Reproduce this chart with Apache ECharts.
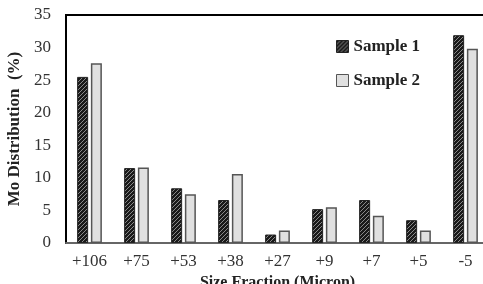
<!DOCTYPE html>
<html><head><meta charset="utf-8">
<script src="https://cdn.jsdelivr.net/npm/echarts@6/dist/echarts.min.js"></script>
<style>html,body{margin:0;padding:0;background:#fff}#c{width:483px;height:284px}</style>
</head><body><div id="c"></div>
<script>
const categories = ['+106','+75','+53','+38','+27','+9','+7','+5','-5'];
const sample1 = [25.5, 11.5, 8.4, 6.6, 1.3, 5.2, 6.6, 3.5, 31.9];
const sample2 = [27.6, 11.6, 7.5, 10.6, 1.9, 5.5, 4.2, 1.9, 29.8];
const yTicks = [0,5,10,15,20,25,30,35];

function hatch(){
  const c = document.createElement('canvas');
  c.width = 4; c.height = 4;
  const g = c.getContext('2d');
  g.fillStyle = '#1a1a1a'; g.fillRect(0,0,4,4);
  g.strokeStyle = '#8a8a8a'; g.lineWidth = 1;
  g.beginPath();
  g.moveTo(0,4); g.lineTo(4,0);
  g.moveTo(-1,1); g.lineTo(1,-1);
  g.moveTo(3,5); g.lineTo(5,3);
  g.stroke();
  return c;
}
const pat = {image: hatch(), repeat: 'repeat'};
const serif = '"Liberation Serif", "DejaVu Serif", serif';
const chart = echarts.init(document.getElementById('c'), null, {renderer:'canvas'});
chart.setOption({
  animation:false,
  grid:{left:66, right:-6, top:15, bottom:41, outerBoundsMode:'none', containLabel:false,
        show:true, borderColor:'#000', borderWidth:2, backgroundColor:'transparent'},
  legend:{
    orient:'vertical', left:331, top:33, itemWidth:12, itemHeight:12, itemGap:17, icon:'rect',
    textStyle:{fontFamily:serif, fontWeight:'bold', fontSize:17, color:'#222'},
    data:[
      {name:'Sample 1', itemStyle:{color:pat, borderColor:'#222', borderWidth:1}},
      {name:'Sample 2', itemStyle:{color:'#e0e0e0', borderColor:'#555', borderWidth:1}}
    ]
  },
  xAxis:{
    type:'category', data:categories,
    axisLine:{lineStyle:{color:'#666', width:2}},
    axisTick:{show:false},
    axisLabel:{fontFamily:serif, fontSize:17, color:'#333', margin:10},
    name:'Size Fraction (Micron)', nameLocation:'middle', nameGap:31,
    nameTextStyle:{fontFamily:serif, fontWeight:'bold', fontSize:16, color:'#222'}
  },
  yAxis:{
    type:'value', min:0, max:35, interval:5,
    axisLine:{show:true, lineStyle:{color:'#000', width:2}},
    axisTick:{show:false},
    splitLine:{show:false},
    axisLabel:{fontFamily:serif, fontSize:17, color:'#333', margin:15,
      formatter: v => yTicks.includes(v) ? String(v) : ''},
    name:'Mo Distribution  (%)', nameLocation:'middle', nameGap:40,
    nameTextStyle:{fontFamily:serif, fontWeight:'bold', fontSize:17, color:'#222'}
  },
  series:[
    {name:'Sample 1', type:'bar', data:sample1, barWidth:11, barGap:'25%',
     itemStyle:{color:pat, borderColor:'#222', borderWidth:1}},
    {name:'Sample 2', type:'bar', data:sample2, barWidth:11, barGap:'25%',
     itemStyle:{color:'#e0e0e0', borderColor:'#555', borderWidth:1.5}}
  ]
});
</script></body></html>
